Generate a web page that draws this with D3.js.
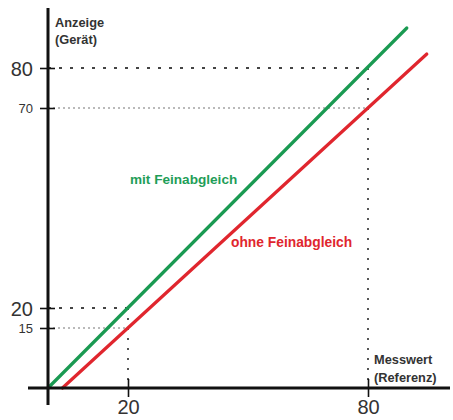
<!DOCTYPE html>
<html><head><meta charset="utf-8">
<script src="https://cdn.jsdelivr.net/npm/d3@7"></script>
<style>
body{margin:0;background:#fff;}
text{font-family:"Liberation Sans",Arial,sans-serif;}
</style></head>
<body><svg id="c" width="453" height="420"></svg>
<script>
// Data
const greenX = [0, 89.7];
const greenY = [0, 90];
const redX = [3.6, 94.7];
const redY = [0, 83.5];
const yTicks = [80, 70, 20, 15];
const yTickBig = [true, false, true, false];
const xTicks = [20, 80];
const guideH = [[80, 80], [70, 80], [20, 20], [15, 20]]; // [y value, x extent]
const guideV = [[80, 80], [20, 20]]; // [x value, y top]
const labelGreen = "mit Feinabgleich";
const labelRed = "ohne Feinabgleich";
const yTitle = ["Anzeige", "(Gerät)"];
const xTitle = ["Messwert", "(Referenz)"];

const svg = d3.select("#c");
const x = d3.scaleLinear().domain([0, 100]).range([48, 448]);
const y = d3.scaleLinear().domain([0, 100]).range([388, -12]);

const GREEN = "#1a9a52", RED = "#e0262e", INK = "#333";

// guide lines
guideH.forEach(([v, xe], i) => {
  const big = yTickBig[yTicks.indexOf(v)];
  svg.append("line").attr("x1", x(0)).attr("x2", x(xe)).attr("y1", y(v)).attr("y2", y(v))
    .attr("stroke", big ? "#444" : "#777").attr("stroke-width", big ? 1.8 : 1.2)
    .attr("stroke-dasharray", big ? "3,8" : "2,3");
});
guideV.forEach(([v, yt]) => {
  svg.append("line").attr("x1", x(v)).attr("x2", x(v)).attr("y1", y(yt)).attr("y2", y(0))
    .attr("stroke", "#444").attr("stroke-width", 1.8).attr("stroke-dasharray", "2,8");
});

// series lines
const line = d3.line().x(d => x(d[0])).y(d => y(d[1]));
svg.append("path").datum(greenX.map((v, i) => [v, greenY[i]])).attr("d", line)
  .attr("stroke", GREEN).attr("stroke-width", 3.2).attr("fill", "none").attr("stroke-linecap", "round");
svg.append("path").datum(redX.map((v, i) => [v, redY[i]])).attr("d", line)
  .attr("stroke", RED).attr("stroke-width", 3.2).attr("fill", "none").attr("stroke-linecap", "round");

// axes
const yAxis = d3.axisLeft(y).tickValues(yTicks).tickSize(0).tickPadding(0).tickFormat(d3.format("d"));
const gy = svg.append("g").attr("transform", `translate(${x(0)},0)`).call(yAxis);
gy.select(".domain").remove();
gy.selectAll(".tick line").attr("x1", -8).attr("x2", 7).attr("stroke", "#111").attr("stroke-width", 1.6);
gy.selectAll(".tick text").attr("fill", INK).attr("font-family", "Liberation Sans, Arial, sans-serif")
  .attr("x", -15)
  .attr("font-size", d => yTickBig[yTicks.indexOf(d)] ? 20 : 13)
  .attr("dy", "0.35em");

const xAxis = d3.axisBottom(x).tickValues(xTicks).tickSize(0).tickPadding(0).tickFormat(d3.format("d"));
const gx = svg.append("g").attr("transform", `translate(0,${y(0)})`).call(xAxis);
gx.select(".domain").remove();
gx.selectAll(".tick line").attr("y1", -9).attr("y2", 9).attr("stroke", "#111").attr("stroke-width", 1.6);
gx.selectAll(".tick text").attr("fill", INK).attr("font-family", "Liberation Sans, Arial, sans-serif")
  .attr("font-size", 20).attr("y", 12).attr("dy", "0.71em");

svg.append("line").attr("x1", x(0)).attr("x2", x(0)).attr("y1", 8).attr("y2", 405)
  .attr("stroke", "#111").attr("stroke-width", 3);
svg.append("line").attr("x1", 28).attr("x2", 450).attr("y1", y(0)).attr("y2", y(0))
  .attr("stroke", "#111").attr("stroke-width", 3);

// axis titles
yTitle.forEach((t, i) => svg.append("text").text(t).attr("x", 55).attr("y", 27 + i * 17)
  .attr("font-size", 12.8).attr("font-weight", "bold").attr("fill", INK));
xTitle.forEach((t, i) => svg.append("text").text(t).attr("x", 374).attr("y", 364 + i * 17.5)
  .attr("font-size", 12.8).attr("font-weight", "bold").attr("fill", INK));

// series labels
svg.append("text").text(labelGreen).attr("x", 130).attr("y", 184)
  .attr("font-size", 13.6).attr("font-weight", "bold").attr("fill", "#1f9e58");
svg.append("text").text(labelRed).attr("x", 231).attr("y", 247)
  .attr("font-size", 13.8).attr("font-weight", "bold").attr("fill", RED);
</script></body></html>
